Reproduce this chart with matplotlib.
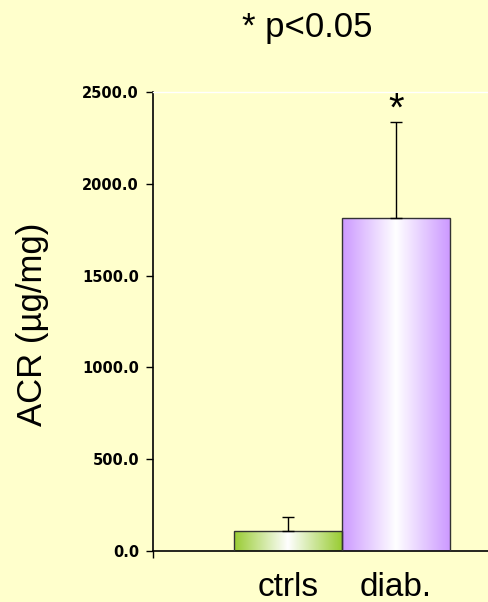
import numpy as np
import matplotlib
matplotlib.use("Agg")
import matplotlib.pyplot as plt
from matplotlib.colors import LinearSegmentedColormap

# --- data ---
groups = ["ctrls", "diab."]
acr_mean = [111, 1814]
acr_err = [73, 524]
bar_edge = ["#99CC33", "#CC99FF"]
yticks = [0, 500, 1000, 1500, 2000, 2500]
title = "* p<0.05"
ylabel = "ACR (\u00b5g/mg)"

bg = "#FFFFCC"
plt.rcParams["font.family"] = ["Liberation Sans", "DejaVu Sans"]

fig = plt.figure(figsize=(4.89, 6.02), dpi=100, facecolor=bg)
ax = fig.add_axes([153 / 489, 51 / 602, 336 / 489, 459 / 602])
ax.set_facecolor(bg)

x = np.array([1.25, 2.25])
bars = ax.bar(x, acr_mean, width=1.0, color="none", edgecolor="#333333",
              linewidth=1.0, zorder=3)

# horizontal gradient fill: edge colour -> white in the middle -> edge colour
grad = np.linspace(0, 1, 256).reshape(1, -1)
for bar, c in zip(bars, bar_edge):
    cmap = LinearSegmentedColormap.from_list("g", [c, "white", c])
    bx, by = bar.get_x(), bar.get_y()
    im = ax.imshow(grad, cmap=cmap, aspect="auto", zorder=2,
                   extent=[bx, bx + bar.get_width(), by, by + bar.get_height()])
    im.set_clip_path(bar)

ax.errorbar(x, acr_mean, yerr=[[0, 0], acr_err], fmt="none", ecolor="black",
            elinewidth=1.0, capsize=4, capthick=1.0, zorder=4)

# significance star over diabetic group
ax.annotate("*", (x[1], acr_mean[1] + acr_err[1]), xytext=(0, 1),
            textcoords="offset points", ha="center", va="baseline",
            fontsize=29, zorder=5)

ax.set_xlim(0, 336 / 108)
ax.set_ylim(0, 2500)
ax.set_yticks(yticks)
ax.set_yticklabels([f"{v:.1f}" for v in yticks], fontweight="bold",
                   fontsize=10.5, family="DejaVu Sans")
ax.tick_params(axis="y", direction="out", length=5, width=1.0, pad=5)

ax.set_xticks(x)
ax.set_xticklabels(groups, fontsize=24)
ax.tick_params(axis="x", which="major", length=0, pad=15)
ax.set_xticks([0], minor=True)
ax.tick_params(axis="x", which="minor", direction="out", length=5, width=1.0)

ax.spines["right"].set_visible(False)
ax.spines["top"].set_color("white")
ax.spines["top"].set_linewidth(1.0)
for s in ["left", "bottom"]:
    ax.spines[s].set_linewidth(1.2)

fig.text(307 / 489, 1 - 28 / 602, title, ha="center", va="center", fontsize=25)
fig.text(33 / 489, 1 - 324 / 602, ylabel, ha="center", va="center",
         rotation=90, fontsize=25)

fig.savefig("out.png", dpi=100, facecolor=bg)
